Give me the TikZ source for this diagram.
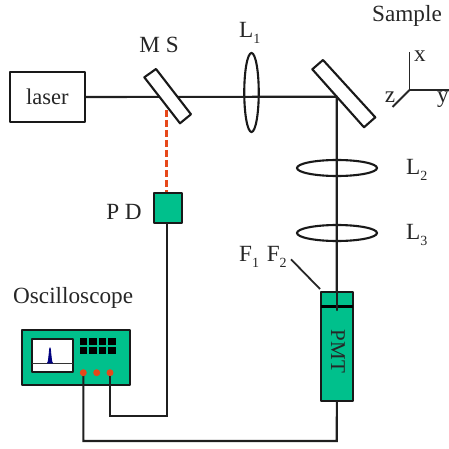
\documentclass[tikz,border=0pt]{standalone}
\usepackage{fontspec}
\setmainfont{Liberation Serif}
\definecolor{boxgreen}{HTML}{00C08C}
\definecolor{dotred}{HTML}{E6481A}
\tikzset{
  wire/.style={line width=2.1pt,draw=black!88,line cap=round},
  part/.style={line width=2.1pt,draw=black!90,line join=round},
  greenbox/.style={part,fill=boxgreen,rectangle,inner sep=0pt,minimum width=#1},
  lbl/.style={inner sep=0pt,text=black!85,font=\fontsize{23.2}{24}\selectfont},
  lens/.style={ellipse,draw=black!90,line width=2.1pt,inner sep=0pt},
  axis/.style={line width=1.9pt,draw=black!85},
  dotc/.style={circle,fill=dotred,inner sep=0pt,minimum size=7pt}
}
\usetikzlibrary{shapes.geometric}
\newcommand{\subs}[1]{\raisebox{-0.25em}{\fontsize{14}{15}\selectfont #1}}
\begin{document}
\begin{tikzpicture}[x=1pt,y=-1pt]
\useasboundingbox (0,0) rectangle (449,449);
% junction and free-end coordinates
\coordinate (turn) at (336.7,96.7);
\coordinate (botR) at (336.7,441);
\coordinate (botL) at (83.3,441);
\coordinate (midL) at (110,415.7);
\coordinate (midR) at (167.3,415.7);
\coordinate (msout) at (166.8,110);
\coordinate (pmtIn) at (336.7,310);
% beams
\node[part,rectangle,draw,fill=white,minimum width=75.5pt,minimum height=50pt,inner sep=0pt,font=\fontsize{22.5}{24}\selectfont,text=black!85] (laser) at (47.3,97) {laser};
\draw[wire] (laser.east) -- (turn) -- (pmtIn);
% lenses
\node[lens,minimum width=14.5pt,minimum height=79pt] (L1) at (251.5,92.5) {};
\node[lens,minimum width=80pt,minimum height=16pt] (L2) at (337,168) {};
\node[lens,minimum width=80pt,minimum height=16pt] (L3) at (337,233) {};
% mirrors
\draw[part,fill=white] (156,69) -- (144.3,77.3) -- (180,123.3) -- (191,114.3) -- cycle;
\draw[part,fill=white] (323,60) -- (312.3,69.3) -- (364,127.3) -- (375.3,117.3) -- cycle;
\draw[wire] (turn) -- (pmtIn);
\draw[wire] (230,96.7) -- (turn);
% PD
\node[greenbox=27.5pt,minimum height=30pt,draw] (PD) at (167.8,207.7) {};
\draw[line width=2.8pt,draw=dotred,dash pattern=on 7pt off 3pt] (msout) -- (PD.north -| msout);
% PMT
\node[greenbox=31.7pt,minimum height=108.7pt,draw] (PMT) at (336.85,346.7) {};
\node[rotate=-90,inner sep=0pt,text=black!85,font=\fontsize{21}{22}\selectfont] (pmttext) at (338,351.5) {PMT};
\coordinate (fL) at (321,306.7);
\coordinate (fR) at (352.7,306.7);
\draw[line width=2.8pt,draw=black] (fL) -- (fR);
\draw[wire] (336.7,285) -- (pmtIn);
% oscilloscope
\node[part,draw,fill=boxgreen,rectangle,inner sep=0pt,minimum width=107.7pt,minimum height=55pt] (scope) at (76.2,357.5) {};
\node[part,draw,fill=white,rectangle,inner sep=0pt,minimum width=41pt,minimum height=32.4pt] (screen) at (52.2,355.5) {};
\coordinate (trL) at (31.7,363.3);
\coordinate (trR) at (72.7,363.3);
\draw[line width=1.5pt,draw=black!80] (trL) -- (trR);
\draw[line width=0.8pt,draw=blue!50!black,fill=blue!50!black] (47.5,363) .. controls (49,362) and (49.2,348) .. (50,348) .. controls (50.8,348) and (51,362) .. (52.5,363) -- cycle;
\foreach \i/\x in {1/83.5,2/93,3/102.5,4/112}{
  \node[rectangle,fill=black,inner sep=0pt,minimum width=7.5pt,minimum height=7pt] (bt\i) at (\x,341.8) {};
  \node[rectangle,fill=black,inner sep=0pt,minimum width=7.5pt,minimum height=7pt] (bb\i) at (\x,350.2) {};
}
% wires
\draw[wire] (83.3,372.7) -- (botL) -- (botR) -- (PMT.south);
\draw[wire] (110,372.7) -- (midL) -- (midR) -- (PD.south -| midR);
\node[dotc] (d1) at (83.3,372.7) {};
\node[dotc] (d2) at (96.7,372.7) {};
\node[dotc] (d3) at (110,372.7) {};
% filter pointer
\coordinate (ptrA) at (291,259.3);
\coordinate (ptrB) at (320,289);
\draw[line width=1.8pt,draw=black!85] (ptrA) -- (ptrB);
% axes
\coordinate (o) at (409.5,90);
\coordinate (ax) at (409.5,52);
\coordinate (ay) at (449,90);
\coordinate (az) at (392.5,107);
\draw[axis] (ax) -- (o) -- (ay);
\draw[axis] (o) -- (az);
% labels
\node[lbl,anchor=west] (tSample) at (372,16) {Sample};
\node[lbl,anchor=west] (tOsc) at (13,298) {Oscilloscope};
\node[lbl] (tMS) at (159,45) {M S};
\node[lbl] (tPD) at (124,212) {P D};
\node[lbl,anchor=west] (tL1) at (239,33) {L\subs{1}};
\node[lbl,anchor=west] (tL2) at (406,170) {L\subs{2}};
\node[lbl,anchor=west] (tL3) at (406,235) {L\subs{3}};
\node[lbl,anchor=west] (tF) at (239,257) {F\subs{1}\,\,F\subs{2}};
\node[lbl] (tx) at (420,56) {x};
\node[lbl] (ty) at (443,100) {y};
\node[lbl] (tz) at (390,97) {z};
\end{tikzpicture}
\end{document}
